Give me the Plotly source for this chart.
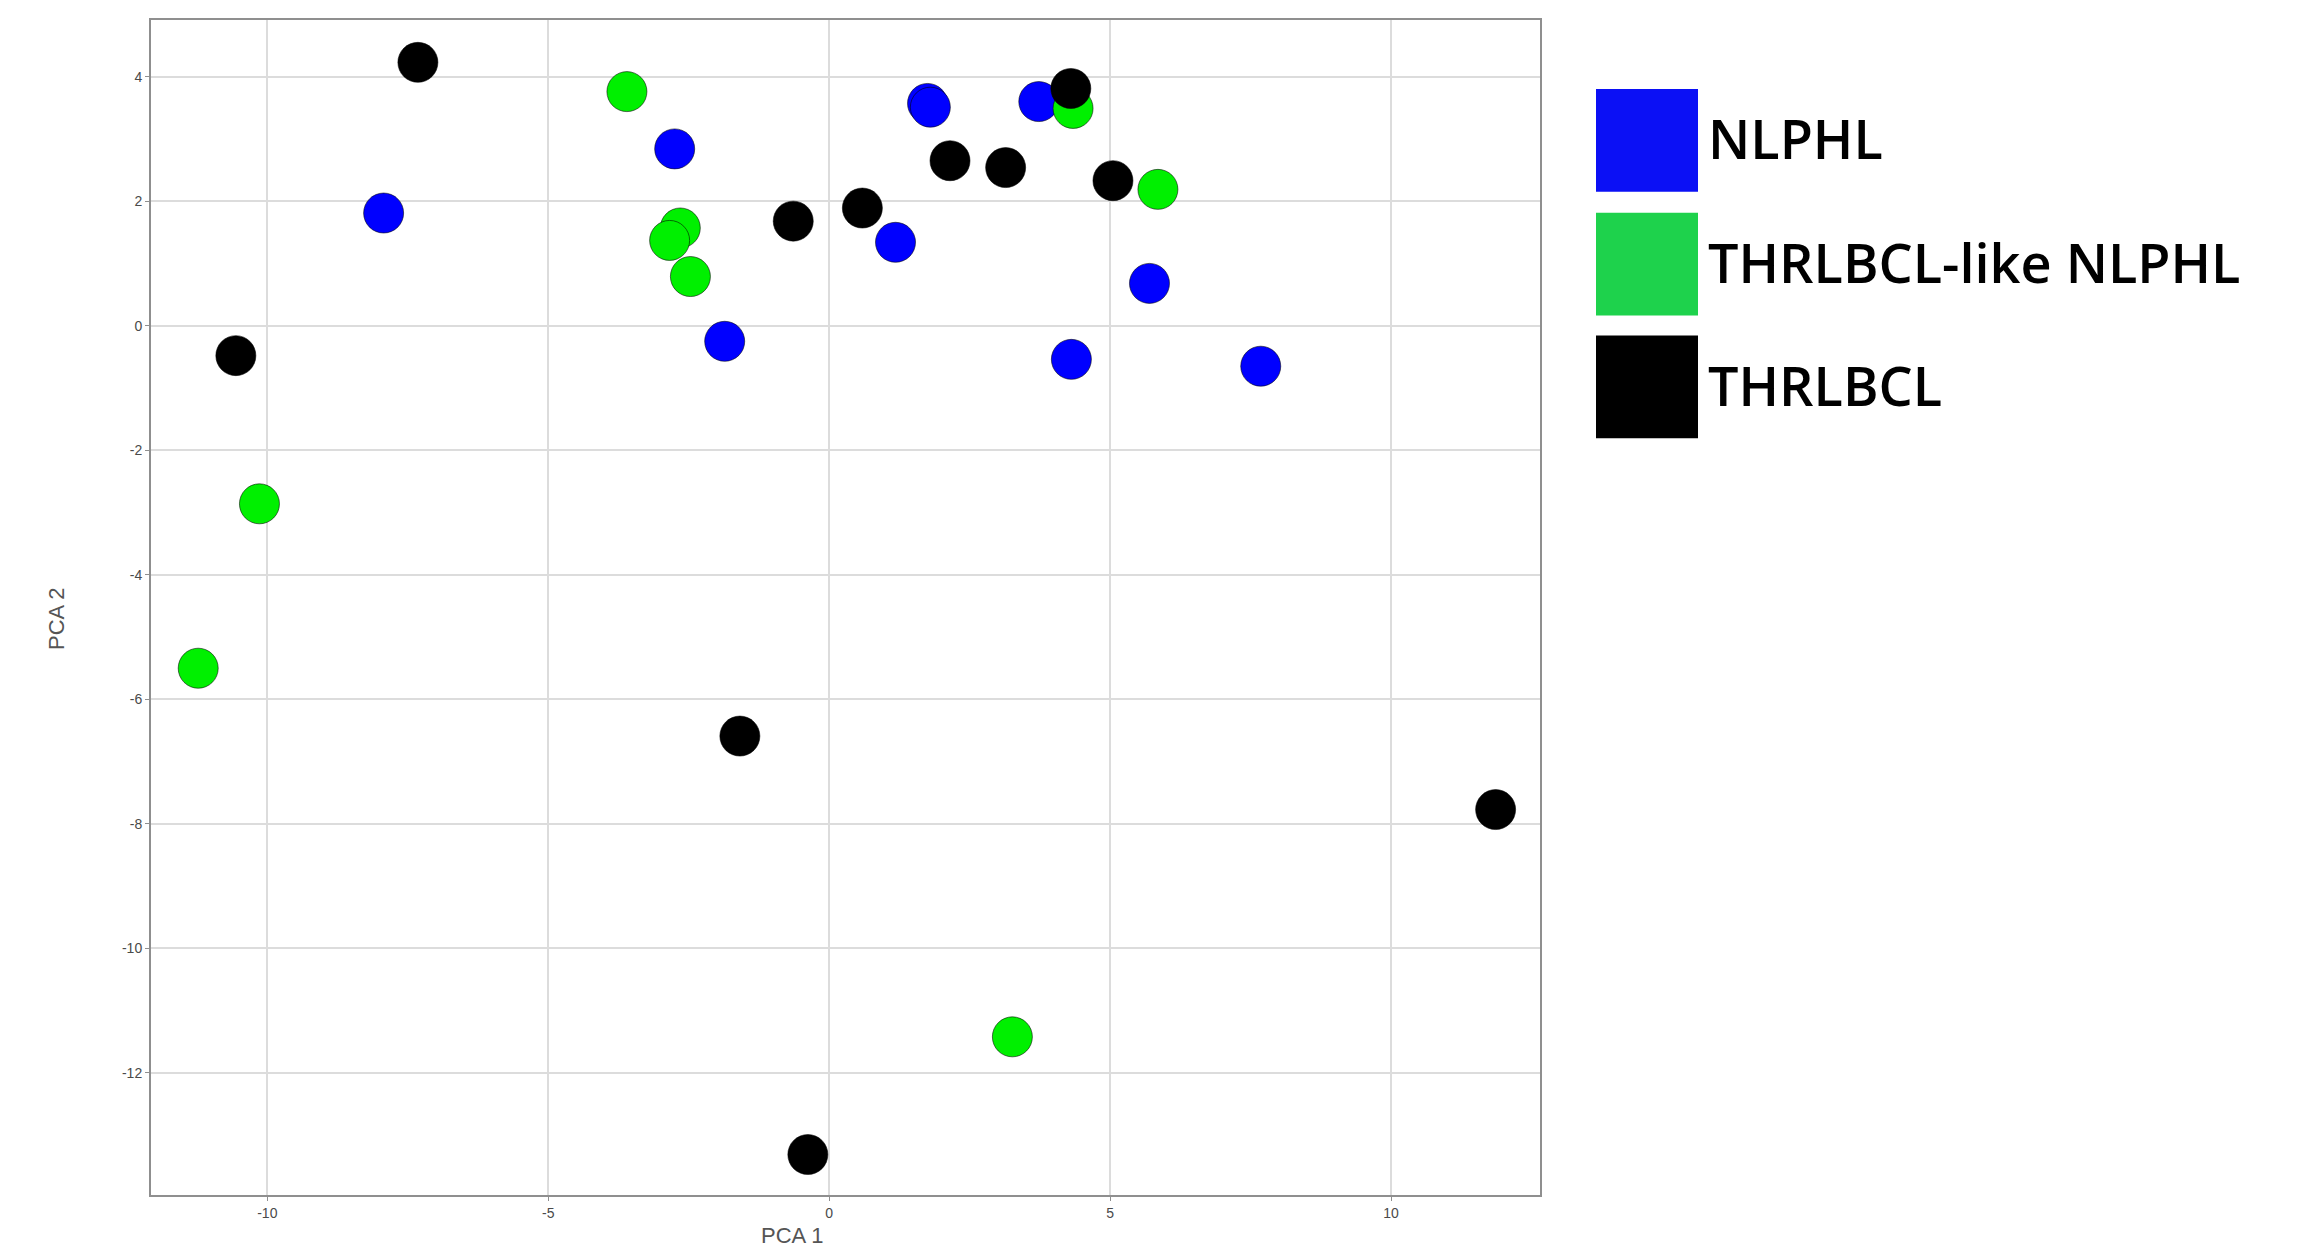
import plotly.graph_objects as go

# ---- data ----
groups = ["NLPHL", "THRLBCL-like NLPHL", "THRLBCL"]
marker_colors = ["#0000ff", "#00f000", "#000000"]
legend_colors = ["#0b10f5", "#1ed24c", "#000000"]

nlphl_x = [-7.93, -2.75, -1.86, 1.18, 1.75, 1.80, 3.73, 4.31, 5.70, 7.68]
nlphl_y = [1.81, 2.84, -0.25, 1.34, 3.57, 3.51, 3.60, -0.54, 0.68, -0.65]

like_x = [-3.60, -2.65, -2.84, -2.47, 4.34, 5.85, -10.14, -11.23, 3.26]
like_y = [3.76, 1.57, 1.37, 0.79, 3.49, 2.19, -2.86, -5.50, -11.42]

thr_x = [-7.32, -10.56, -0.64, 0.59, 2.15, 3.14, 4.30, 5.05, -1.59, 11.86, -0.38]
thr_y = [4.23, -0.48, 1.68, 1.89, 2.65, 2.54, 3.81, 2.33, -6.59, -7.77, -13.31]

x_ticks = [-10, -5, 0, 5, 10]
y_ticks = [4, 2, 0, -2, -4, -6, -8, -10, -12]

series_x = [nlphl_x, like_x, thr_x]
series_y = [nlphl_y, like_y, thr_y]

# ---- layout geometry (window pixels) ----
OFF = 8  # default page body margin
W, H = 2300 - OFF, 1251 - OFF
L, R, T, B = 151, 1540, 18, 1195  # plot area in window pixels


def px(xp):
    return (xp - L) / (R - L)


def py(yp):
    return (B - yp) / (B - T)


fig = go.Figure()
for name, xs, ys, col in zip(groups, series_x, series_y, marker_colors):
    fig.add_trace(go.Scatter(
        x=xs, y=ys, mode="markers", name=name,
        marker=dict(size=40, color=col,
                    line=dict(color="rgba(0,0,0,0.55)", width=1)),
        showlegend=False,
    ))

tick_font = dict(family="Liberation Sans Narrow, Liberation Sans, Arial", size=14, color="#4a4a4a")
axis_common = dict(
    showgrid=True, gridcolor="#dcdcdc", gridwidth=1.5,
    zeroline=False, showline=True, mirror=True,
    linecolor="#8f8f8f", linewidth=2,
    ticks="outside", ticklen=4, tickcolor="#8f8f8f", tickwidth=1,
    tickfont=tick_font, tickmode="array",
)
fig.update_xaxes(range=[-12.07, 12.65], tickvals=x_ticks,
                 ticktext=[str(v) for v in x_ticks], **axis_common)
fig.update_yaxes(range=[-13.96, 4.91], tickvals=y_ticks,
                 ticktext=[str(v) for v in y_ticks], **axis_common)

title_font = dict(family="Liberation Sans Narrow, Liberation Sans, Arial", size=22, color="#555555")
annotations = [
    dict(text="PCA 1", x=px(792), y=py(1236), xref="paper", yref="paper",
         xanchor="center", yanchor="middle", showarrow=False, font=title_font),
    dict(text="PCA 2", x=px(57), y=py(618), xref="paper", yref="paper",
         xanchor="center", yanchor="middle", showarrow=False, font=title_font,
         textangle=-90),
]

shapes = []
sq_tops = [87, 211, 334]
sq_h = 103
for name, col, top in zip(groups, legend_colors, sq_tops):
    shapes.append(dict(type="rect", xref="paper", yref="paper",
                       x0=px(1596), x1=px(1698), y0=py(top + sq_h), y1=py(top),
                       fillcolor=col, line=dict(width=0)))
    annotations.append(dict(
        text=name, x=px(1706), y=py(top + sq_h / 2 - 2), xref="paper", yref="paper",
        xanchor="left", yanchor="middle", showarrow=False,
        font=dict(family="Open Sans, Noto Sans, sans-serif", size=54,
                  color="#000000", weight=600),
    ))

fig.update_layout(
    width=W, height=H,
    margin=dict(l=L - OFF, r=2300 - R, t=T - OFF, b=1251 - B),
    plot_bgcolor="white", paper_bgcolor="white",
    annotations=annotations, shapes=shapes,
    showlegend=False,
)

fig.write_html("out.html")
